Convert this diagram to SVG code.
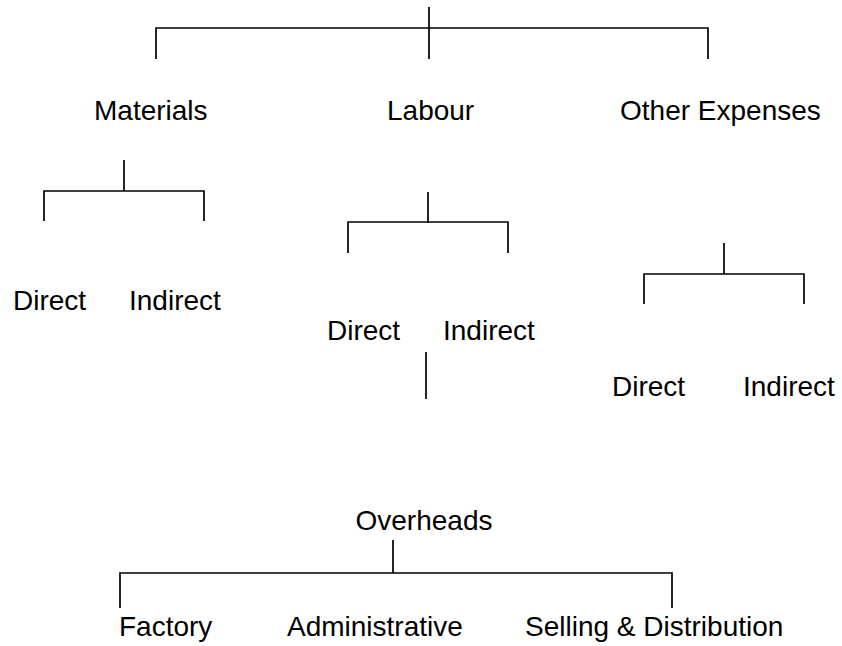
<svg xmlns="http://www.w3.org/2000/svg" width="842" height="646" viewBox="0 0 842 646">
<style>
text{font-family:"Liberation Sans",Arial,sans-serif;font-size:28px;fill:#000}
.c path{stroke:#000;stroke-width:1.7;fill:none}
</style>
<rect width="842" height="646" fill="#fff"/>
<g class="c" id="connectors">
<path d="M429,7 V59 M156,59 V28 H708 V59"/>
<path d="M124,160 V191 M44,221 V191 H204 V221"/>
<path d="M428,192 V223 M348,253 V222 H508 V253"/>
<path d="M724,243 V274 M644,304 V274 H804 V304"/>
<path d="M426,352 V399"/>
<path d="M393,540 V573 M120,608 V573 H672 V608"/>
</g>
<g id="materials"><text x="94" y="120">Materials</text></g>
<g id="labour"><text x="387" y="120">Labour</text></g>
<g id="other"><text x="620" y="120">Other Expenses</text></g>
<g id="mat-direct"><text x="13" y="310">Direct</text></g>
<g id="mat-indirect"><text x="129" y="310">Indirect</text></g>
<g id="lab-direct"><text x="327" y="340">Direct</text></g>
<g id="lab-indirect"><text x="443" y="340">Indirect</text></g>
<g id="oth-direct"><text x="612" y="396">Direct</text></g>
<g id="oth-indirect"><text x="743" y="396">Indirect</text></g>
<g id="overheads"><text x="424" y="530" text-anchor="middle">Overheads</text></g>
<g id="factory"><text x="119" y="636">Factory</text></g>
<g id="admin"><text x="287" y="636">Administrative</text></g>
<g id="selling"><text x="525" y="636">Selling &amp; Distribution</text></g>
</svg>
